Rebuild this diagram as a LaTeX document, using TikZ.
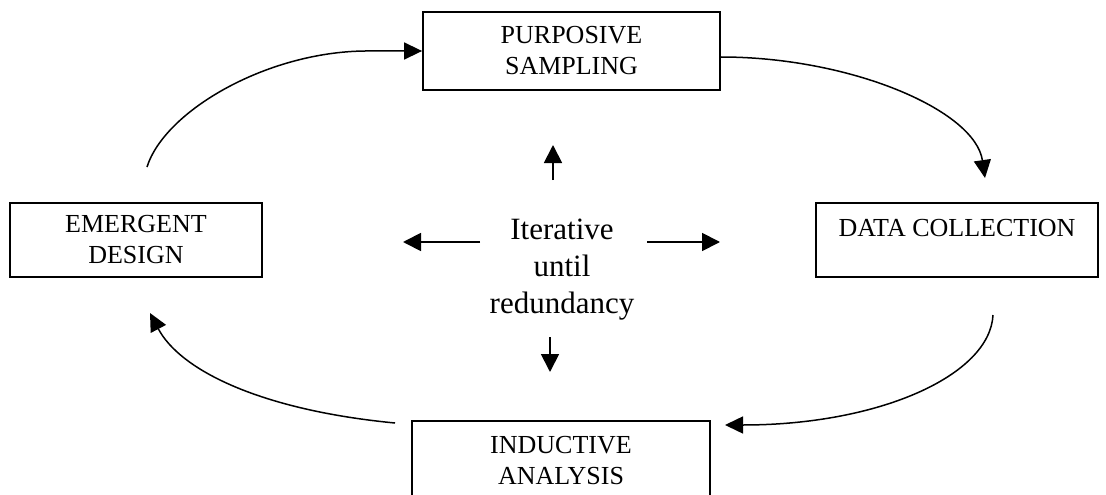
\documentclass[tikz,border=0pt]{standalone}
\usepackage{fontspec}
\setmainfont{Liberation Serif}
\usetikzlibrary{arrows.meta}
\begin{document}
\begin{tikzpicture}[x=1pt,y=-1pt,
  box/.style={draw,line width=1.8pt,align=center,inner sep=0pt,font=\fontsize{26}{31}\selectfont},
  cyclearrow/.style={line width=1.5pt,-{Triangle[length=18pt,width=17pt]}},
  midarrow/.style={line width=1.8pt,-{Triangle[length=18pt,width=18pt]}}]
  \useasboundingbox (0,0) rectangle (1106,495);
  \clip (0,0) rectangle (1106,495);
  \node[box,minimum width=297pt,minimum height=78pt] (samp) at (571.5,51) {PURPOSIVE\\SAMPLING};
  \node[box,minimum width=252pt,minimum height=74pt] (emer) at (136,240) {EMERGENT\\DESIGN};
  \node[box,minimum width=282pt,text height=33pt,text depth=41pt,anchor=base] (coll) at (957,236) {DATA COLLECTION};
  \node[box,minimum width=298pt,minimum height=80pt,anchor=north] (anal) at (561,420) {INDUCTIVE\\ANALYSIS};
  \node[align=center,font=\fontsize{31}{37}\selectfont] (mid) at (562,270) {Iterative\\until\\redundancy};

  \coordinate (upA) at (553,180);
  \coordinate (upB) at (553,145);
  \coordinate (dnA) at (550,337);
  \coordinate (dnB) at (550,372);
  \coordinate (lfA) at (480,242);
  \coordinate (lfB) at (403,242);
  \coordinate (rtA) at (647,242);
  \coordinate (rtB) at (720,242);
  \draw[midarrow] (upA)--(upB);
  \draw[midarrow] (dnA)--(dnB);
  \draw[midarrow] (lfA)--(lfB);
  \draw[midarrow] (rtA)--(rtB);

  \coordinate (c1) at (147,167);
  \coordinate (c2) at (985,178);
  \coordinate (c3) at (993,315);
  \coordinate (c4) at (725,425);
  \coordinate (c5) at (395,423);
  \coordinate (c6) at (150,313);
  \draw[cyclearrow] (c1) .. controls (165,110) and (270,50) .. (370,51) -- (samp.west);
  \draw[cyclearrow] (samp.east |- 0,57) .. controls (850,57) and (975,110) .. (c2);
  \draw[cyclearrow] (c3) .. controls (990,375) and (880,425) .. (c4);
  \draw[cyclearrow] (c5) .. controls (260,410) and (180,370) .. (c6);
\end{tikzpicture}
\end{document}
